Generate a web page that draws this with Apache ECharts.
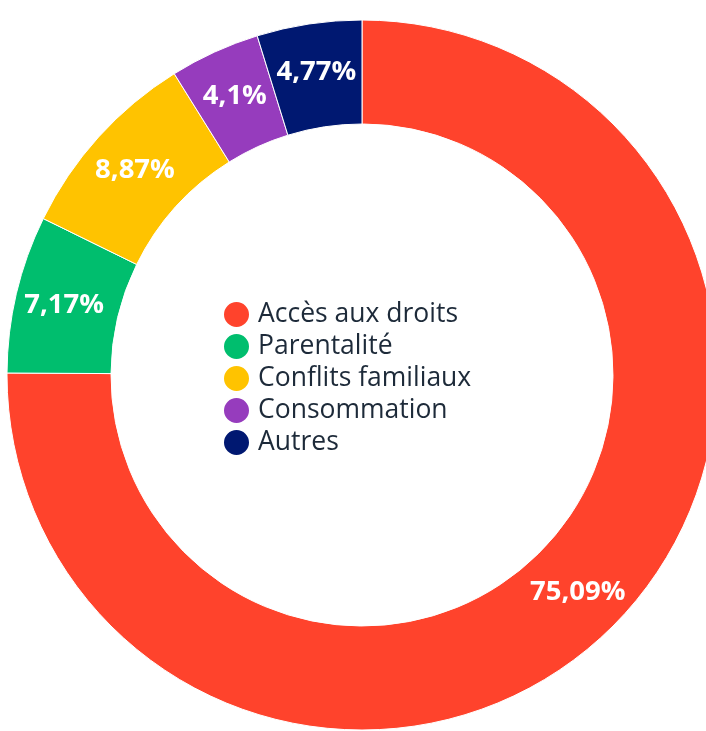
<!DOCTYPE html>
<html>
<head>
<meta charset="utf-8">
<style>
  html, body { margin: 0; padding: 0; background: #fff; }
  #chart { width: 706px; height: 731px; }
</style>
<script src="https://cdn.jsdelivr.net/npm/echarts@6/dist/echarts.min.js"></script>
</head>
<body>
<div id="chart"></div>
<script>
// categories and values, clockwise from 12 o'clock
const categories = [ "Accès aux droits", "Parentalité", "Conflits familiaux", "Consommation", "Autres" ];
const values = [ 75.09, 7.17, 8.87, 4.1, 4.77 ];
const colors = [ "#ff432c", "#00be6e", "#ffc300", "#963cbd", "#001871" ];

( function ()
{
  let myChart = echarts.init( document.getElementById( "chart" ) );
  let option = {
    animation: false,
    legend: {
      orient: "vertical",
      left: 217,
      top: 295,
      icon: "circle",
      itemWidth: 27,
      itemHeight: 27,
      itemGap: 3,
      selectedMode: false,
      data: categories,
      textStyle: {
        fontFamily: "Open Sans",
        fontSize: 26.5,
        lineHeight: 27,
        color: "#1d2a39",
        padding: [ 0, 0, 0, 3 ]
      }
    },
    series: [
      {
        type: "pie",
        center: [ 362, 375 ],
        radius: [ 251, 355 ],
        startAngle: 90,
        clockwise: true,
        color: colors,
        itemStyle: {
          borderColor: "#ffffff",
          borderWidth: 1
        },
        label: {
          show: true,
          position: "inside",
          color: "#ffffff",
          fontFamily: "Open Sans",
          fontWeight: "bold",
          fontSize: 27.5,
          formatter: function ( p )
          {
            return String( p.value ).replace( ".", "," ) + "%";
          }
        },
        labelLine: { show: false },
        emphasis: { disabled: true },
        data: categories.map( function ( name, i )
        {
          return { name: name, value: values[ i ] };
        } )
      }
    ]
  };
  myChart.setOption( option );
} )();
</script>
</body>
</html>
